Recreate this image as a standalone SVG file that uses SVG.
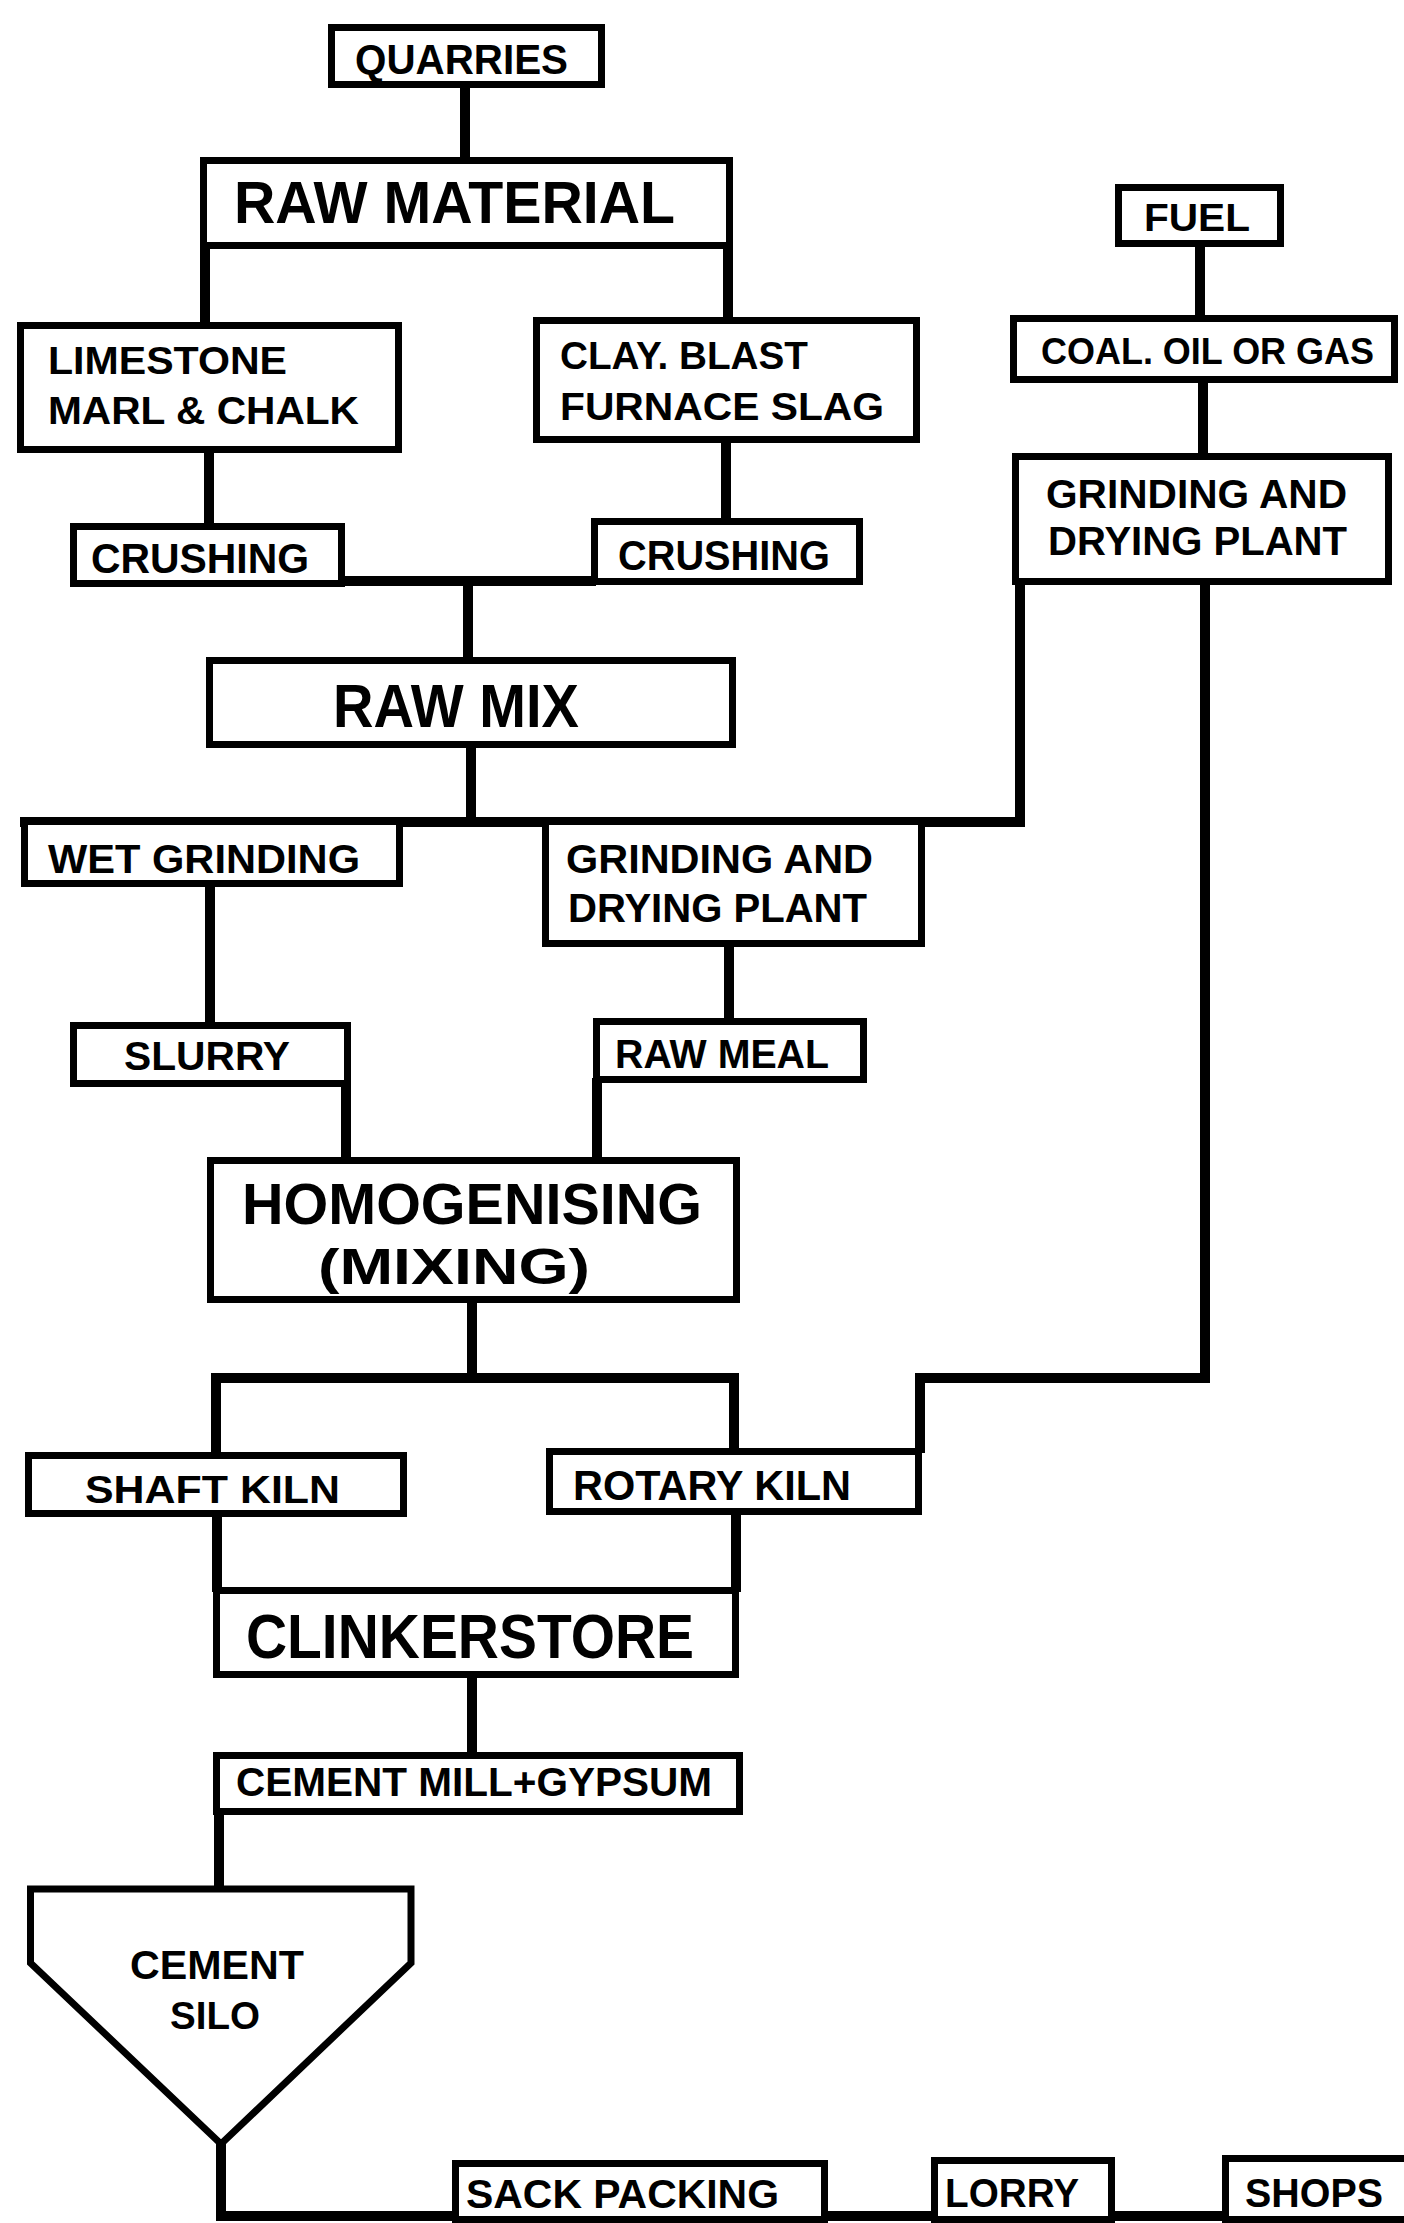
<svg xmlns="http://www.w3.org/2000/svg" width="1404" height="2223" viewBox="0 0 1404 2223">
<style>
.bx{fill:#fff;stroke:#000;stroke-width:7}
.cn{fill:none;stroke:#000;stroke-width:10;stroke-linecap:square;stroke-linejoin:miter}
text{font-family:"Liberation Sans","DejaVu Sans",Arial,sans-serif;font-weight:bold;fill:#000}
</style>
<rect width="1404" height="2223" fill="#fff"/>
<g id="connectors">
<path class="cn" d="M465,87V155"/>
<path class="cn" d="M205,248V322"/>
<path class="cn" d="M728,248V317"/>
<path class="cn" d="M1200,247V315"/>
<path class="cn" d="M1203,383V453"/>
<path class="cn" d="M209,453V523"/>
<path class="cn" d="M726,443V518"/>
<path class="cn" d="M345,581H591"/>
<path class="cn" d="M468,581V657"/>
<path class="cn" d="M471,748V822"/>
<path class="cn" d="M25,822H1020V585"/>
<path class="cn" d="M210,887V1022"/>
<path class="cn" d="M729,947V1018"/>
<path class="cn" d="M346,1087V1157"/>
<path class="cn" d="M597,1083V1157"/>
<path class="cn" d="M472,1303V1378"/>
<path class="cn" d="M216,1452V1378H734V1448"/>
<path class="cn" d="M1205,585V1378H920V1448"/>
<path class="cn" d="M217,1517V1587"/>
<path class="cn" d="M736,1515V1587"/>
<path class="cn" d="M472,1678V1752"/>
<path class="cn" d="M219,1815V1889"/>
<path class="cn" d="M221,2147V2216H1404"/>
</g>
<g id="quarries"><rect class="bx" x="331.5" y="27.5" width="270" height="57"/><text x="355" y="74" font-size="43" textLength="213" lengthAdjust="spacingAndGlyphs">QUARRIES</text></g>
<g id="raw-material"><rect class="bx" x="203.5" y="160.5" width="526" height="85"/><text x="234" y="223" font-size="59" textLength="441" lengthAdjust="spacingAndGlyphs">RAW MATERIAL</text></g>
<g id="limestone"><rect class="bx" x="20.5" y="325.5" width="378" height="124"/><text x="48" y="374" font-size="39" textLength="239" lengthAdjust="spacingAndGlyphs">LIMESTONE</text><text x="48" y="424" font-size="39" textLength="311" lengthAdjust="spacingAndGlyphs">MARL &amp; CHALK</text></g>
<g id="clay"><rect class="bx" x="536.5" y="320.5" width="380" height="119"/><text x="560" y="369" font-size="39" textLength="248" lengthAdjust="spacingAndGlyphs">CLAY. BLAST</text><text x="560" y="420" font-size="39" textLength="324" lengthAdjust="spacingAndGlyphs">FURNACE SLAG</text></g>
<g id="crushing-1"><rect class="bx" x="73.5" y="526.5" width="268" height="57"/><text x="91" y="573" font-size="42" textLength="218" lengthAdjust="spacingAndGlyphs">CRUSHING</text></g>
<g id="crushing-2"><rect class="bx" x="594.5" y="521.5" width="265" height="60"/><text x="618" y="570" font-size="42" textLength="212" lengthAdjust="spacingAndGlyphs">CRUSHING</text></g>
<g id="fuel"><rect class="bx" x="1118.5" y="187.5" width="162" height="56"/><text x="1144" y="231" font-size="38" textLength="106" lengthAdjust="spacingAndGlyphs">FUEL</text></g>
<g id="coal-oil-gas"><rect class="bx" x="1013.5" y="318.5" width="381" height="61"/><text x="1041" y="364" font-size="37" textLength="333" lengthAdjust="spacingAndGlyphs">COAL. OIL OR GAS</text></g>
<g id="grinding-drying-fuel"><rect class="bx" x="1015.5" y="456.5" width="373" height="125"/><text x="1046" y="508" font-size="41" textLength="301" lengthAdjust="spacingAndGlyphs">GRINDING AND</text><text x="1048" y="555" font-size="41" textLength="299" lengthAdjust="spacingAndGlyphs">DRYING PLANT</text></g>
<g id="raw-mix"><rect class="bx" x="209.5" y="660.5" width="523" height="84"/><text x="333" y="727" font-size="61" textLength="246" lengthAdjust="spacingAndGlyphs">RAW MIX</text></g>
<g id="wet-grinding"><rect class="bx" x="24.5" y="821.5" width="375" height="62"/><text x="48" y="873" font-size="41" textLength="312" lengthAdjust="spacingAndGlyphs">WET GRINDING</text></g>
<g id="grinding-drying-raw"><rect class="bx" x="545.5" y="821.5" width="376" height="122"/><text x="566" y="873" font-size="41" textLength="307" lengthAdjust="spacingAndGlyphs">GRINDING AND</text><text x="568" y="922" font-size="41" textLength="299" lengthAdjust="spacingAndGlyphs">DRYING PLANT</text></g>
<g id="slurry"><rect class="bx" x="73.5" y="1025.5" width="274" height="58"/><text x="124" y="1070" font-size="41" textLength="166" lengthAdjust="spacingAndGlyphs">SLURRY</text></g>
<g id="raw-meal"><rect class="bx" x="596.5" y="1021.5" width="267" height="58"/><text x="615" y="1068" font-size="41" textLength="214" lengthAdjust="spacingAndGlyphs">RAW MEAL</text></g>
<g id="homogenising"><rect class="bx" x="210.5" y="1160.5" width="526" height="139"/><text x="242" y="1224" font-size="58" textLength="460" lengthAdjust="spacingAndGlyphs">HOMOGENISING</text><text x="318" y="1284" font-size="50" textLength="272" lengthAdjust="spacingAndGlyphs">(MIXING)</text></g>
<g id="shaft-kiln"><rect class="bx" x="28.5" y="1455.5" width="375" height="58"/><text x="85" y="1503" font-size="39" textLength="255" lengthAdjust="spacingAndGlyphs">SHAFT KILN</text></g>
<g id="rotary-kiln"><rect class="bx" x="549.5" y="1451.5" width="369" height="60"/><text x="573" y="1500" font-size="42" textLength="278" lengthAdjust="spacingAndGlyphs">ROTARY KILN</text></g>
<g id="clinkerstore"><rect class="bx" x="216.5" y="1590.5" width="519" height="84"/><text x="246" y="1658" font-size="63" textLength="448" lengthAdjust="spacingAndGlyphs">CLINKERSTORE</text></g>
<g id="cement-mill"><rect class="bx" x="216.5" y="1755.5" width="523" height="56"/><text x="236" y="1796" font-size="40" textLength="476" lengthAdjust="spacingAndGlyphs">CEMENT MILL+GYPSUM</text></g>
<g id="cement-silo"><path class="bx" d="M30.5,1889H411V1963L221,2144L30.5,1963Z"/><text x="130" y="1979" font-size="41" textLength="174" lengthAdjust="spacingAndGlyphs">CEMENT</text><text x="170" y="2029" font-size="38" textLength="90" lengthAdjust="spacingAndGlyphs">SILO</text></g>
<g id="sack-packing"><rect class="bx" x="455.5" y="2163.5" width="369" height="56"/><text x="466" y="2208" font-size="41" textLength="313" lengthAdjust="spacingAndGlyphs">SACK PACKING</text></g>
<g id="lorry"><rect class="bx" x="934.5" y="2160.5" width="177" height="59"/><text x="945" y="2207" font-size="41" textLength="134" lengthAdjust="spacingAndGlyphs">LORRY</text></g>
<g id="shops"><rect class="bx" x="1225.5" y="2158.5" width="185" height="61"/><text x="1245" y="2207" font-size="41" textLength="138" lengthAdjust="spacingAndGlyphs">SHOPS</text></g>
</svg>
